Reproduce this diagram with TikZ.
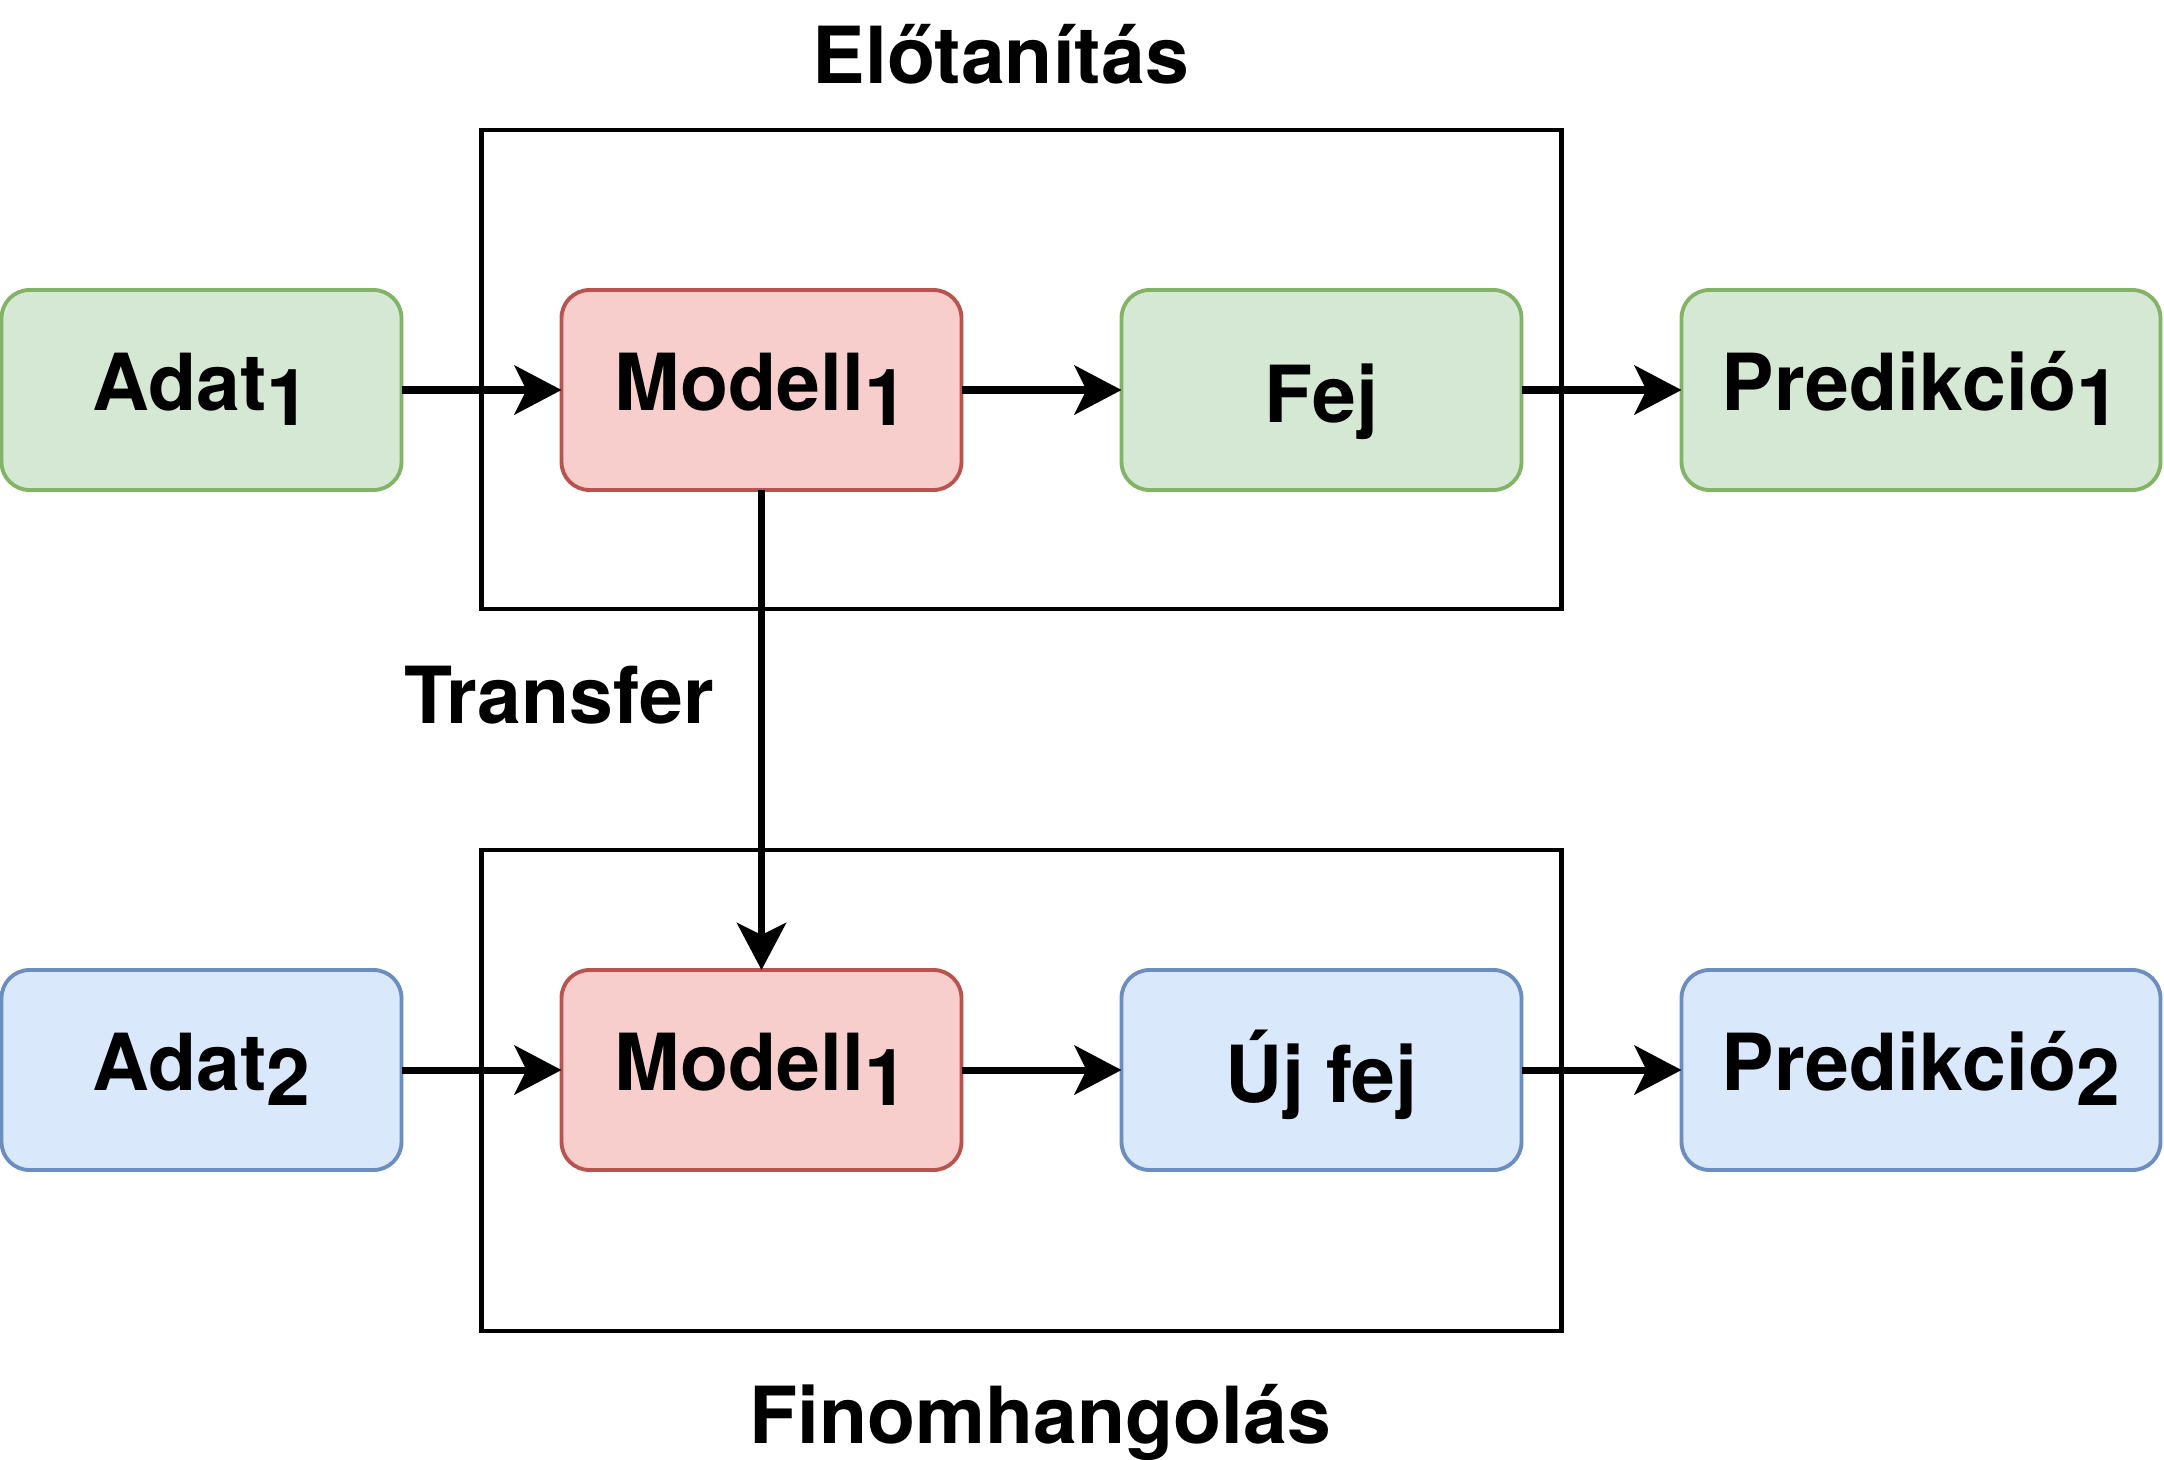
\documentclass[tikz,border=0pt]{standalone}
\usepackage{fontspec}
\setmainfont{TeX Gyre Heros}
\usepackage{tikz}
\usetikzlibrary{arrows.meta,shapes,positioning}

\definecolor{greenfill}{HTML}{D5E8D4}
\definecolor{greenline}{HTML}{82B366}
\definecolor{redfill}{HTML}{F8CECC}
\definecolor{redline}{HTML}{B85450}
\definecolor{bluefill}{HTML}{DAE8FC}
\definecolor{blueline}{HTML}{6C8EBF}
\newcommand{\lowsub}[1]{\raisebox{-0.19em}{#1}}

\begin{document}
\begin{tikzpicture}[node distance=1.6cm,
    txt/.style={font=\fontsize{22.4}{27}\selectfont\bfseries},
    box/.style={txt, rounded corners=0.28cm, line width=1.1pt, inner sep=0pt, outer sep=0pt,
                minimum width=4cm, minimum height=2cm,
                text height=16.1pt, text depth=4.7pt},
    plain/.style={text height=18.4pt, text depth=0pt},
    gbox/.style={box, draw=greenline, fill=greenfill},
    rbox/.style={box, draw=redline, fill=redfill},
    bbox/.style={box, draw=blueline, fill=bluefill},
    arr/.style={-{Stealth[length=4.7mm, width=4.9mm, inset=1.2mm]}, line width=2pt},
    frame/.style={line width=1.3pt}]
           \useasboundingbox (0,0) rectangle (21.64,-14.6);
           % upper row
           \node [gbox] (adat1) at (2.015,-3.9) {Adat\lowsub{1}};
           \node [rbox, right=of adat1] (modell1) {Modell\lowsub{1}};
           \node [gbox, plain, right=of modell1] (fej1) {Fej};
           \node [gbox, right=of fej1, minimum width=4.79cm] (pred1) {Predikció\lowsub{1}};
           % lower row
           \node [bbox, below=4.8cm of adat1] (adat2) {Adat\lowsub{2}};
           \node [rbox, right=of adat2] (modell2) {Modell\lowsub{1}};
           \node [bbox, plain, right=of modell2] (fej2) {Új fej};
           \node [bbox, right=of fej2, minimum width=4.79cm] (pred2) {Predikció\lowsub{2}};
           % frames
           \draw [frame] ([shift={(-0.8,1.6)}]modell1.north west) rectangle ([shift={(0.4,-1.19)}]fej1.south east);
           \draw [frame] ([shift={(-0.8,1.2)}]modell2.north west) rectangle ([shift={(0.4,-1.61)}]fej2.south east);
           \node [txt, anchor=base] (pretitle) at (10.01,-0.83) {Előtanítás};
           \node [txt, anchor=base] (finetitle) at (10.40,-14.43) {Finomhangolás};
           \node [txt, anchor=base] (transfer) at (5.59,-7.23) {Transfer};
           % connectors
           \draw [arr] (adat1) -- (modell1);
           \draw [arr] (modell1) -- (fej1);
           \draw [arr] (fej1) -- (pred1);
           \draw [arr] (adat2) -- (modell2);
           \draw [arr] (modell2) -- (fej2);
           \draw [arr] (fej2) -- (pred2);
           \draw [arr] (modell1) -- (modell2);
      \end{tikzpicture}
\end{document}
